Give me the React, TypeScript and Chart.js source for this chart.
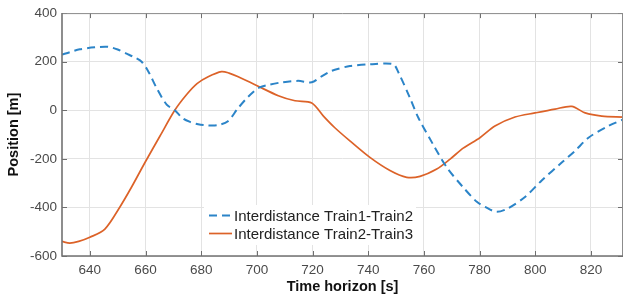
import React, { useEffect, useRef } from "react";
import { Chart, registerables } from "chart.js";

Chart.register(...registerables);

// ---- data ----
const xTicks = [640, 660, 680, 700, 720, 740, 760, 780, 800, 820];
const yTicks = [-600, -400, -200, 0, 200, 400];
const seriesLabels = ["Interdistance Train1-Train2", "Interdistance Train2-Train3"];
const xTitle = "Time horizon [s]";
const yTitle = "Position [m]";

const train12Time = [630, 633, 636.4, 641.8, 646.6, 650, 653.2, 656, 658.6, 661, 664, 667.6, 670.5, 673.5, 676, 678.9, 682, 686, 689.6, 693, 696, 699, 701, 704, 709, 714.8, 719.7, 723, 726.2, 728, 733.4, 740.6, 748.9, 750.7, 755, 758, 763.2, 768.2, 774, 779, 782, 786, 790, 796.3, 802.3, 809.5, 814.3, 819.1, 826.2, 831.5];
const train12Pos = [229, 240, 251, 259, 261, 250, 233, 218, 200, 160, 91, 23, 0, -34, -48, -58, -62, -61, -45, 5, 45, 78, 94, 104, 115, 121, 115, 138, 159, 167, 182, 189, 190, 159, 50, -31, -139, -235, -316, -377, -398, -418, -405, -357, -289, -215, -167, -113, -65, -38];

const train23Time = [630, 632.8, 636, 640, 645.4, 650.8, 655, 659.8, 665.2, 670.5, 674.7, 678.5, 682.5, 687.3, 690, 693.3, 699.9, 707.7, 713.7, 719.7, 723.9, 728, 733.4, 740.6, 747.8, 753.8, 758.6, 764.6, 769.4, 774.1, 780.1, 785.5, 792.7, 799.9, 807.1, 813.1, 817.9, 823.9, 831.5];
const train23Pos = [-540, -547, -540, -523, -489, -398, -316, -215, -106, 0, 64, 110, 138, 159, 153, 138, 102, 60, 39, 30, -24, -72, -126, -194, -248, -276, -272, -242, -201, -156, -113, -65, -28, -11, 5, 16, -11, -24, -28];

// ---- styles ----
const FONT = "'Liberation Sans', Arial, Helvetica, sans-serif";
const BLUE = "#2b84c8";
const ORANGE = "#dc6228";
const GRID = "#e3e3e3";
const TICK = "#4a4a4a";

const framePlugin = {
  id: "frame",
  afterDatasetsDraw(chart: any) {
    const { ctx, chartArea, scales } = chart;
    const { left, right, top, bottom } = chartArea;
    const xs = scales.x;
    const ys = scales.y;
    ctx.save();
    ctx.strokeStyle = "#6f6f6f";
    ctx.lineWidth = 1;
    ctx.beginPath();
    for (const v of xTicks) {
      const px = Math.round(xs.getPixelForValue(v)) + 0.5;
      ctx.moveTo(px, bottom);
      ctx.lineTo(px, bottom - 5);
      ctx.moveTo(px, top);
      ctx.lineTo(px, top + 5);
    }
    for (const v of yTicks) {
      const py = Math.round(ys.getPixelForValue(v)) + 0.5;
      ctx.moveTo(left, py);
      ctx.lineTo(left + 5, py);
      ctx.moveTo(right, py);
      ctx.lineTo(right - 5, py);
    }
    ctx.stroke();
    // box
    ctx.strokeStyle = "#8c8c8c";
    ctx.lineWidth = 1;
    ctx.beginPath();
    ctx.moveTo(left, top + 0.5);
    ctx.lineTo(right, top + 0.5);
    ctx.moveTo(right - 0.5, top);
    ctx.lineTo(right - 0.5, bottom);
    ctx.stroke();
    ctx.strokeStyle = "#727272";
    ctx.lineWidth = 1.6;
    ctx.beginPath();
    ctx.moveTo(left, top);
    ctx.lineTo(left, bottom);
    ctx.lineTo(right, bottom);
    ctx.stroke();
    ctx.restore();
  },
};

const legendPlugin = {
  id: "insideLegend",
  afterDraw(chart: any) {
    const { ctx, chartArea } = chart;
    const { left, bottom } = chartArea;
    const bx = left + 142;
    const by = bottom - 51;
    ctx.save();
    ctx.fillStyle = "#ffffff";
    ctx.fillRect(bx, by, 212, 40);
    ctx.font = `15px ${FONT}`;
    ctx.textBaseline = "alphabetic";
    ctx.textAlign = "left";
    chart.data.datasets.forEach((ds: any, i: number) => {
      const cy = by + 10.5 + i * 18;
      ctx.strokeStyle = ds.borderColor;
      ctx.lineWidth = ds.borderWidth;
      ctx.setLineDash(ds.borderDash || []);
      ctx.beginPath();
      ctx.moveTo(bx + 5, cy);
      ctx.lineTo(bx + 28, cy);
      ctx.stroke();
      ctx.setLineDash([]);
      ctx.fillStyle = "#222222";
      ctx.fillText(ds.label, bx + 30, cy + 5.5);
    });
    ctx.restore();
  },
};

export default function App() {
  const ref = useRef<HTMLCanvasElement>(null);
  useEffect(() => {
    const canvas = ref.current;
    if (!canvas) return;
    const chart = new Chart(canvas, {
      type: "line",
      data: {
        datasets: [
          {
            label: seriesLabels[0],
            data: train12Time.map((t, i) => ({ x: t, y: train12Pos[i] })),
            borderColor: BLUE,
            borderWidth: 2,
            borderDash: [8, 5],
            pointRadius: 0,
            tension: 0.3,
            fill: false,
          },
          {
            label: seriesLabels[1],
            data: train23Time.map((t, i) => ({ x: t, y: train23Pos[i] })),
            borderColor: ORANGE,
            borderWidth: 1.7,
            pointRadius: 0,
            tension: 0.3,
            fill: false,
          },
        ],
      },
      options: {
        animation: false,
        responsive: false,
        devicePixelRatio: 1,
        layout: { padding: { top: 11, right: 1, left: 0, bottom: 0 } },
        plugins: {
          legend: { display: false },
          tooltip: { enabled: false },
          title: { display: false },
        },
        scales: {
          x: {
            type: "linear",
            min: 630,
            max: 831.5,
            afterBuildTicks: (s: any) => {
              s.ticks = xTicks.map((v) => ({ value: v }));
            },
            afterFit: (s: any) => {
              s.height = 48;
            },
            grid: { color: GRID, drawTicks: false, lineWidth: 1 },
            border: { display: false },
            ticks: {
              padding: 6,
              color: TICK,
              font: { family: FONT, size: 13.5 },
              maxRotation: 0,
              autoSkip: false,
            },
            title: {
              display: true,
              text: xTitle,
              color: "#111111",
              font: { family: FONT, size: 14.5, weight: "bold" },
              padding: { top: 0, bottom: 8 },
            },
          },
          y: {
            type: "linear",
            min: -600,
            max: 400,
            afterBuildTicks: (s: any) => {
              s.ticks = yTicks.map((v) => ({ value: v }));
            },
            afterFit: (s: any) => {
              s.width = 62;
            },
            grid: { color: GRID, drawTicks: false, lineWidth: 1 },
            border: { display: false },
            ticks: {
              padding: 5,
              color: TICK,
              font: { family: FONT, size: 13.5 },
              autoSkip: false,
            },
            title: {
              display: true,
              text: yTitle,
              color: "#111111",
              font: { family: FONT, size: 14.5, weight: "bold" },
              padding: { top: 5, bottom: 0 },
            },
          },
        },
      } as any,
      plugins: [framePlugin, legendPlugin],
    });
    return () => chart.destroy();
  }, []);

  return (
    <div style={{ position: "absolute", left: 0, top: 0, width: 624, height: 304, background: "#fff" }}>
      <canvas ref={ref} width={624} height={304} style={{ display: "block", width: 624, height: 304 }} />
    </div>
  );
}
